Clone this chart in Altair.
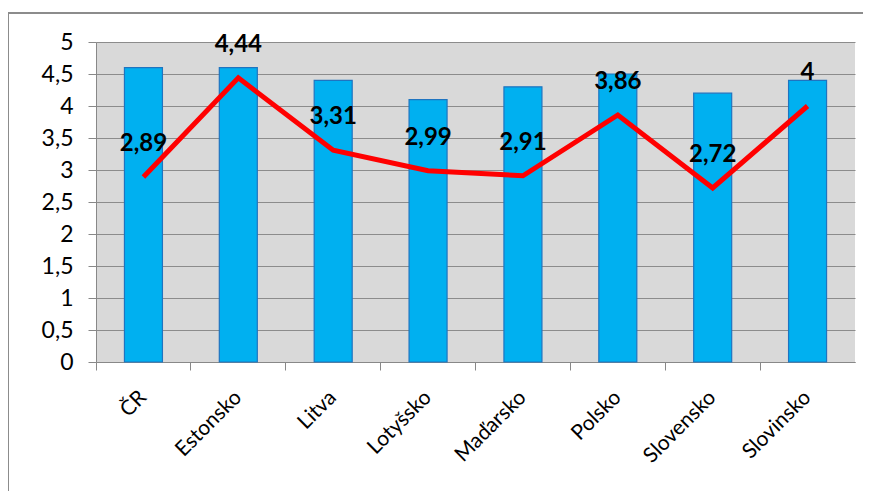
import altair as alt
import pandas as pd

countries = ["ČR", "Estonsko", "Litva", "Lotyšsko", "Maďarsko", "Polsko", "Slovensko", "Slovinsko"]
bar_values = [4.6, 4.6, 4.4, 4.1, 4.3, 4.5, 4.2, 4.4]
line_values = [2.89, 4.44, 3.31, 2.99, 2.91, 3.86, 2.72, 4.0]
line_labels = ["2,89", "4,44", "3,31", "2,99", "2,91", "3,86", "2,72", "4"]
y_ticks = [0, 0.5, 1, 1.5, 2, 2.5, 3, 3.5, 4, 4.5, 5]

df = pd.DataFrame({
    "country": countries,
    "bar": bar_values,
    "line": line_values,
    "label": line_labels,
})

W, H = 759, 320
FONT = "Lato"

x_axis = alt.Axis(labelAngle=-45, labelAlign="right", labelBaseline="middle",
                  labelFontSize=21, labelFont=FONT, labelColor="#000",
                  labelPadding=24, bandPosition=0, ticks=True, tickSize=8, tickColor="#888",
                  domainColor="#888", grid=False, title=None)

y_axis = alt.Axis(values=y_ticks,
                  labelExpr="replace(format(datum.value, '~g'), '.', ',')",
                  labelFontSize=23, labelFont=FONT, labelColor="#000", labelPadding=15,
                  tickSize=8, tickColor="#888", domainColor="#888",
                  grid=True, gridColor="#8c8c8c", gridWidth=1.2, title=None)

x_scale = alt.Scale(paddingInner=0, paddingOuter=0)
y_scale = alt.Scale(domain=[0, 5], nice=False)


def xenc():
    return alt.X("country:N", sort=countries, title=None, scale=x_scale, axis=x_axis)


def yenc(field):
    return alt.Y(field, title=None, scale=y_scale, axis=y_axis)


bars = alt.Chart(df).mark_bar(width=38, color="#00b0f0", stroke="#1f74c0", strokeWidth=1.2).encode(
    x=xenc(),
    y=yenc("bar:Q"),
)

line = alt.Chart(df).mark_line(color="#ff0000", strokeWidth=5, strokeJoin="miter").encode(
    x=xenc(),
    y=yenc("line:Q"),
)

labels = alt.Chart(df).mark_text(fontSize=24, fontWeight="bold", font=FONT, color="#000", dy=-33).encode(
    x=xenc(),
    y=yenc("line:Q"),
    text="label:N",
)

frame = alt.Chart(df).mark_rect(fillOpacity=0, stroke="#8c8c8c", strokeWidth=1.5).encode(
    x=alt.value(-88), x2=alt.value(W + 100), y=alt.value(-29), y2=alt.value(H + 300)
)

chart = alt.layer(bars, line, labels, frame).properties(
    width=W, height=H,
    autosize=alt.AutoSizeParams(type="none"),
    padding={"left": 88, "top": 34, "right": 8, "bottom": 129},
).configure_view(fill="#d9d9d9", stroke=None)

chart.save("out.html", embed_options={"renderer": "svg", "actions": False})
